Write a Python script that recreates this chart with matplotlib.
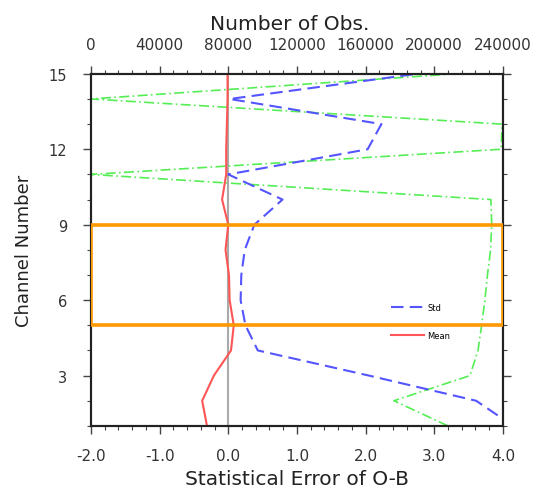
import matplotlib
matplotlib.use("Agg")
import matplotlib.pyplot as plt
from matplotlib.patches import Rectangle
from matplotlib.ticker import MultipleLocator

plt.rcParams['font.family'] = ['DejaVu Sans']

# channel numbers, bottom -> top
channels = [1, 2, 3, 4, 5, 6, 7, 8, 9, 10, 11, 12, 13, 14, 15]
# O-B statistics (bottom axis)
std = [4.15, 3.61, 2.05, 0.43, 0.25, 0.18, 0.19, 0.24, 0.38, 0.79, 0.0, 2.03, 2.23, 0.02, 2.75]
mean = [-0.31, -0.38, -0.21, 0.04, 0.08, 0.02, 0.01, -0.04, 0.0, -0.09, -0.03, -0.03, -0.02, -0.01, -0.01]
# number of observations (top axis)
nobs = [208000, 176500, 220800, 225500, 227600, 229500, 231000, 232800, 233500, 233000,
        0, 239000, 239500, 0, 212000]

xticks = [-2.0, -1.0, 0.0, 1.0, 2.0, 3.0, 4.0]
obs_ticks = [0, 40000, 80000, 120000, 160000, 200000, 240000]
yticks = [3, 6, 9, 12, 15]
box_channels = (5, 9)

fig = plt.figure(figsize=(5.35, 4.89), dpi=100)
ax = fig.add_axes([0.170, 0.127, 0.770, 0.720])
ax2 = ax.twiny()
ax.set_zorder(ax2.get_zorder() + 1)
ax.patch.set_visible(False)

ax2.plot(nobs, channels, color='#55ee55', lw=1.2, dashes=[6, 2, 1, 2])
ax2.set_xlim(0, 240000)
ax2.set_xticks(obs_ticks)
ax2.set_xticklabels([str(t) for t in obs_ticks])
ax2.xaxis.set_minor_locator(MultipleLocator(8000))

ax.axvline(0, color='#aaaaaa', lw=1.5, zorder=1)
ax.plot(std, channels, color='#5555ff', lw=1.5, dashes=[6, 3], label='Std')
ax.plot(mean, channels, color='#ff5555', lw=1.5, label='Mean')

ax.set_xlim(-2, 4)
ax.set_ylim(1, 15)
ax.set_xticks(xticks)
ax.set_xticklabels(['%.1f' % t for t in xticks])
ax.xaxis.set_minor_locator(MultipleLocator(0.2))
ax.set_yticks(yticks)
ax.yaxis.set_minor_locator(MultipleLocator(1))
ax.tick_params(axis='y', which='both', right=True)

for a in (ax, ax2):
    for s in a.spines.values():
        s.set_linewidth(1.5)
        s.set_color('#222222')
    a.tick_params(which='major', direction='out', length=6, width=1.0, labelsize=11,
                  pad=10, color='#444444', labelcolor='#333333')
    a.tick_params(which='minor', direction='out', length=3, width=0.8, color='#444444')
ax.tick_params(axis='y', which='major', labelsize=10.5, pad=11)

ax2.set_xlabel('Number of Obs.', fontsize=14.5, color='#222222')
ax2.xaxis.set_label_coords(0.483, 1.127)
ax2.xaxis.get_label().set_va('baseline')
ax.set_xlabel('Statistical Error of O-B', fontsize=14.5, labelpad=4.5, color='#222222')
ax.set_ylabel('Channel Number', fontsize=13, labelpad=11, color='#222222')

ax.legend(loc='upper left', bbox_to_anchor=(0.71, 0.37), frameon=False, fontsize=6,
          handlelength=4.0, labelspacing=2.25, handletextpad=0.4)

ax.add_patch(Rectangle((-2, box_channels[0]), 6, box_channels[1] - box_channels[0],
                       fill=False, edgecolor='#ff9900', lw=2.6, zorder=10))

fig.savefig('out.png', dpi=100)
